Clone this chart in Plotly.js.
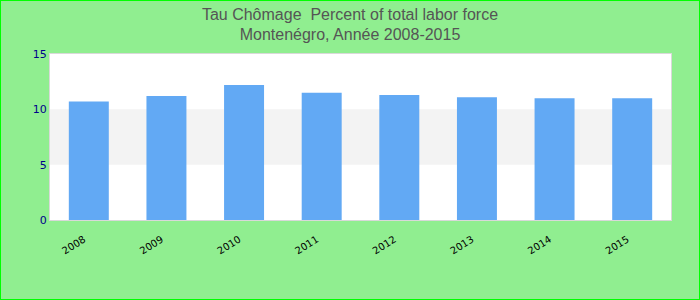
<!DOCTYPE html>
<html>
<head>
<meta charset="utf-8">
<script src="https://cdn.plot.ly/plotly-3.0.1.min.js"></script>
<style>
html,body{margin:0;padding:0;background:#90ee90;}
#wrap{position:relative;width:700px;height:300px;}
#chart{width:700px;height:300px;}
#frame{position:absolute;left:0;top:0;width:700px;height:300px;box-sizing:border-box;border:1px solid #00ff00;pointer-events:none;}
</style>
</head>
<body>
<div id="wrap"><div id="chart"></div><div id="frame"></div></div>
<script>
var years = ['2008','2009','2010','2011','2012','2013','2014','2015'];
var unemployment = [10.7, 11.2, 12.2, 11.5, 11.3, 11.1, 11.0, 11.0];
var yTicks = [0, 5, 10, 15];
var bandRanges = [[5, 10]];

var trace = {
  type: 'bar',
  x: years,
  y: unemployment,
  marker: {color: '#62a9f4'},
  hoverinfo: 'x+y'
};

var shapes = bandRanges.map(function(r){
  return {type:'rect', xref:'paper', yref:'y', x0:0, x1:1, y0:r[0], y1:r[1],
          fillcolor:'#f3f3f3', line:{width:0}, layer:'below'};
});

var layout = {
  width: 700, height: 300,
  paper_bgcolor: '#90ee90',
  plot_bgcolor: '#ffffff',
  margin: {l:50, r:29, t:54, b:80},
  title: {
    text: 'Tau Chômage  Percent of total labor force<br>Montenégro, Année 2008-2015',
    font: {family: 'Liberation Sans, Arial, sans-serif', size: 16, color: '#555555'},
    x: 0.5, xanchor: 'center', y: 0.935, yanchor: 'middle'
  },
  bargap: 0.485,
  showlegend: false,
  shapes: shapes,
  xaxis: {
    type: 'category',
    tickangle: -32,
    tickfont: {family: 'DejaVu Sans, sans-serif', size: 10, color: '#000000'},
    ticklabelshift: -5,
    showline: true, linecolor: '#d9d9d9', linewidth: 1, mirror: true,
    ticks: 'outside', ticklen: 9, tickcolor: 'rgba(0,0,0,0)',
    showgrid: false, zeroline: false
  },
  yaxis: {
    range: [0, 15],
    tickvals: yTicks,
    tickfont: {family: 'DejaVu Sans, sans-serif', size: 11, color: '#00008b'},
    showline: true, linecolor: '#d9d9d9', linewidth: 1, mirror: true,
    ticks: '', showgrid: false, zeroline: false
  }
};

Plotly.newPlot('chart', [trace], layout, {displayModeBar: false, staticPlot: true});
</script>
</body>
</html>
